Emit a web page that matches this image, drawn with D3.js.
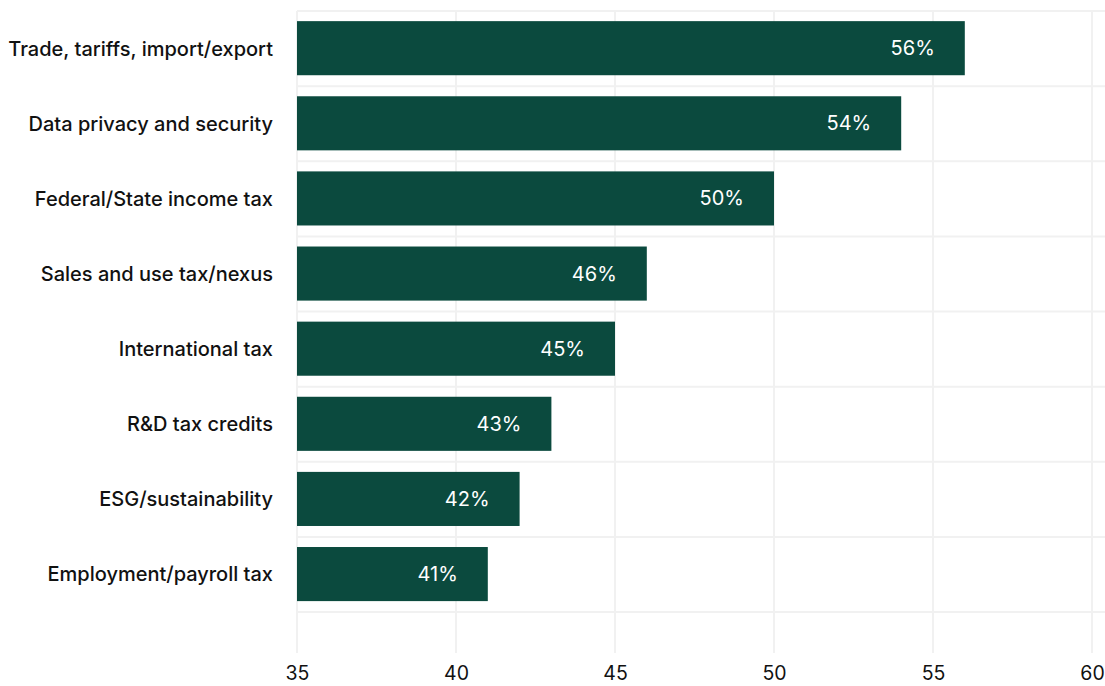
<!DOCTYPE html>
<html>
<head>
<meta charset="utf-8">
<script src="https://cdn.jsdelivr.net/npm/d3@7"></script>
<style>
  html, body { margin: 0; padding: 0; background: #ffffff; }
  svg { display: block; }
</style>
</head>
<body>
<svg id="chart" width="1105" height="686"></svg>
<script>
// Regulatory areas and share of respondents (%)
const categories = [
  "Trade, tariffs, import/export",
  "Data privacy and security",
  "Federal/State income tax",
  "Sales and use tax/nexus",
  "International tax",
  "R&D tax credits",
  "ESG/sustainability",
  "Employment/payroll tax"
];
const values = [56, 54, 50, 46, 45, 43, 42, 41];
const tickValues = [35, 40, 45, 50, 55, 60];

(function () {
  const W = 1105;
  const plotLeft = 297, plotRight = 1092, plotTop = 11, plotBottom = 612, gridBottom = 653;

  const svg = d3.select("#chart");

  const x = d3.scaleLinear().domain([35, 60]).range([plotLeft, plotRight]);
  const y = d3.scaleBand().domain(categories).range([plotTop, plotBottom]).paddingInner(0).paddingOuter(0);

  const barColor = "#0b4a3e";
  const gridColor = "#f1f1f1";
  const font = "Inter, 'Noto Sans', sans-serif";

  // vertical gridlines at each tick
  svg.append("g")
    .selectAll("line")
    .data(tickValues)
    .join("line")
    .attr("x1", d => x(d)).attr("x2", d => x(d))
    .attr("y1", plotTop).attr("y2", gridBottom)
    .attr("stroke", gridColor).attr("stroke-width", 2);

  // horizontal gridlines at band boundaries
  const bounds = categories.map(c => y(c)).concat([y(categories[categories.length - 1]) + y.step()]);
  svg.append("g")
    .selectAll("line")
    .data(bounds)
    .join("line")
    .attr("x1", plotLeft).attr("x2", W)
    .attr("y1", d => d).attr("y2", d => d)
    .attr("stroke", gridColor).attr("stroke-width", 2);

  // bars
  const inset = y.step() * 0.135;
  const barH = y.step() * 0.72;
  svg.append("g")
    .selectAll("rect")
    .data(categories)
    .join("rect")
    .attr("x", x(35))
    .attr("y", c => y(c) + inset)
    .attr("width", (c, i) => x(values[i]) - x(35))
    .attr("height", barH)
    .attr("fill", barColor);

  // value labels inside the bar ends
  svg.append("g")
    .selectAll("text")
    .data(categories)
    .join("text")
    .attr("x", (c, i) => x(values[i]) - 30)
    .attr("y", c => y(c) + inset + barH / 2)
    .attr("dy", "0.35em")
    .attr("text-anchor", "end")
    .attr("fill", "#ffffff")
    .style("font-family", font)
    .style("font-size", "20px")
    .style("font-weight", 400)
    .text((c, i) => values[i] + "%");

  // category axis
  const yAxis = d3.axisLeft(y).tickSize(0).tickPadding(24);
  const gy = svg.append("g").attr("transform", `translate(${plotLeft},0)`).call(yAxis);
  gy.select(".domain").remove();
  gy.selectAll("text")
    .attr("dy", "0.35em")
    .attr("fill", "#111111")
    .style("font-family", font)
    .style("font-size", "20px")
    .style("font-weight", 500);

  // value axis
  const xAxis = d3.axisBottom(x).tickValues(tickValues).tickSize(0).tickPadding(0);
  const gx = svg.append("g").attr("transform", `translate(0,${gridBottom})`).call(xAxis);
  gx.select(".domain").remove();
  gx.selectAll("text")
    .attr("y", 27)
    .attr("dy", 0)
    .attr("fill", "#111111")
    .style("font-family", font)
    .style("font-size", "19.5px")
    .style("font-weight", 400);
})();
</script>
</body>
</html>
